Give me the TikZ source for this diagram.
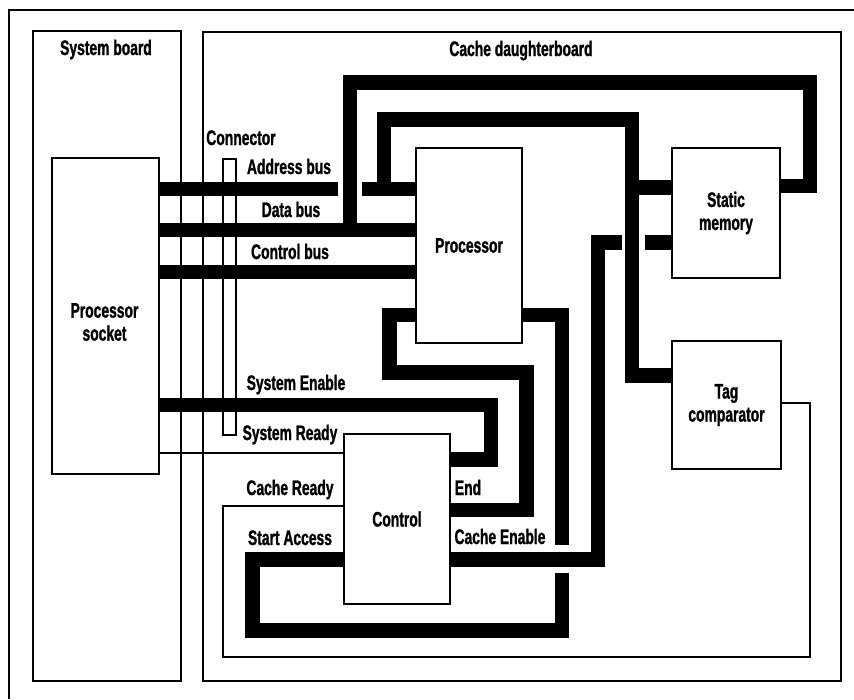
\documentclass[tikz,border=0pt]{standalone}
\usepackage{fontspec}
\newfontfamily\labfont{Liberation Sans}[FakeStretch=0.66, FakeBold=1.2]
\tikzset{
  txt/.style={font=\labfont\bfseries\fontsize{21}{23}\selectfont, inner sep=0pt},
  lbl/.style={txt, anchor=base},
  box/.style={txt, draw, line width=2pt, fill=white, anchor=north west, align=center},
  board/.style={draw, line width=2pt, anchor=north west, inner sep=0pt},
  bus/.style={line width=14.5pt, line join=miter, line cap=butt},
  wire/.style={line width=2pt, line join=miter},
}
\begin{document}
\begin{tikzpicture}[x=1pt, y=-1pt]
\useasboundingbox (0,0) rectangle (854,699);
% outer frame
\draw[wire] (9,699) -- (9,10) -- (854,10);
% boards
\node[board, minimum width=148pt, minimum height=650pt] (sysb) at (32,30) {};
\node[board, minimum width=638pt, minimum height=649pt] (cdb) at (202,31) {};
\node[lbl] (sysbl) at (106,55) {System board};
\node[lbl] (cdbl) at (521,56) {Cache daughterboard};
% connector
\node[board, minimum width=13pt, minimum height=276pt] (conn) at (222,158) {};
\node[lbl] (connl) at (241,145) {Connector};
% boxes
\node[box, minimum width=107pt, minimum height=316pt] (sock) at (51,157) {};
\node[txt, align=center] (sockl) at (104.5,322) {Processor\\socket};
\node[box, minimum width=106pt, minimum height=195pt] (proc) at (415,147) {Processor};
\node[box, minimum width=108pt, minimum height=130pt] (smem) at (671,147) {Static\\memory};
\node[box, minimum width=109pt, minimum height=128pt] (tag) at (671,340) {Tag\\comparator};
\node[box, minimum width=106pt, minimum height=170pt] (ctrl) at (343,433) {Control};
% address bus
\coordinate (abgapL) at (338,189);
\coordinate (abgapR) at (362,189);
\draw[bus] (sock.east |- 0,189) -- (abgapL);
\draw[bus] (abgapR) -- (proc.west |- 0,189);
\draw[bus] (384,189) -- (384,119.5) -- (632,119.5) -- (632,375.5) -- (tag.west |- 0,375.5);
\draw[bus] (632,187.5) -- (smem.west |- 0,187.5);
% data bus
\draw[bus] (sock.east |- 0,230) -- (proc.west |- 0,230);
\draw[bus] (350,230) -- (350,82.5) -- (810,82.5) -- (810,186) -- (smem.east |- 0,186);
% control bus
\draw[bus] (sock.east |- 0,272) -- (proc.west |- 0,272);
% system enable
\draw[bus] (sock.east |- 0,405) -- (491,405) -- (491,459.5) -- (ctrl.east |- 0,459.5);
% system ready
\draw[wire] (sock.east |- 0,453) -- (ctrl.west |- 0,453);
% end
\draw[bus] (proc.west |- 0,315) -- (389.5,315) -- (389.5,372.5) -- (526.5,372.5) -- (526.5,510) -- (ctrl.east |- 0,510);
% start access
\coordinate (sagapT) at (562,545);
\coordinate (sagapB) at (562,573);
\draw[bus] (proc.east |- 0,315) -- (562,315) -- (sagapT);
\draw[bus] (sagapB) -- (562,630.5) -- (252.5,630.5) -- (252.5,559.5) -- (ctrl.west |- 0,559.5);
% cache enable
\coordinate (cegapL) at (622,242.5);
\coordinate (cegapR) at (645,242.5);
\draw[bus] (ctrl.east |- 0,559.5) -- (598,559.5) -- (598,242.5) -- (cegapL);
\draw[bus] (cegapR) -- (smem.west |- 0,242.5);
% cache ready
\draw[wire] (tag.east |- 0,403) -- (810,403) -- (810,657) -- (223,657) -- (223,506) -- (ctrl.west |- 0,506);
% labels
\node[lbl] (abl) at (289,174) {Address bus};
\node[lbl] (dbl) at (291,217) {Data bus};
\node[lbl] (cbl) at (290,259) {Control bus};
\node[lbl] (sel) at (296,390) {System Enable};
\node[lbl] (srl) at (290,440) {System Ready};
\node[lbl] (crl) at (290,495) {Cache Ready};
\node[lbl] (sal) at (290,545) {Start Access};
\node[lbl] (endl) at (468,495) {End};
\node[lbl] (cel) at (500,544) {Cache Enable};
\end{tikzpicture}
\end{document}
